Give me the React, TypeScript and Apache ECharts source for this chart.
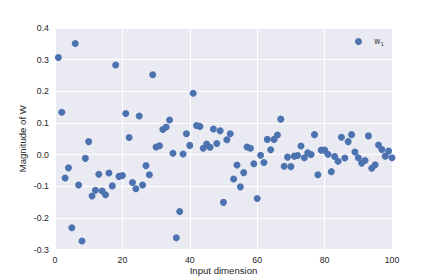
import React, { useEffect, useRef } from "react";
import * as echarts from "echarts";

const dims: number[] = Array.from({ length: 100 }, (_, i) => i + 1);
const weights: number[] = [
  0.307, 0.134, -0.074, -0.042, -0.231, 0.351, -0.096, -0.273, -0.012, 0.041,
  -0.131, -0.113, -0.062, -0.115, -0.127, -0.058, -0.099, 0.283, -0.069, -0.066,
  0.13, 0.054, -0.088, -0.108, 0.122, -0.096, -0.035, -0.064, 0.252, 0.024,
  0.028, 0.079, 0.087, 0.109, 0.004, -0.263, -0.18, 0.002, 0.066, 0.029,
  0.194, 0.092, 0.089, 0.02, 0.033, 0.023, 0.081, 0.035, 0.075, -0.151,
  0.047, 0.066, -0.077, -0.033, -0.102, -0.057, 0.024, 0.02, -0.029, -0.139,
  -0.002, -0.025, 0.048, 0.015, 0.048, 0.062, 0.112, -0.037, -0.008, -0.038,
  -0.005, -0.003, 0.027, -0.01, 0.006, 0.0, 0.063, -0.064, 0.014, 0.014,
  0.001, -0.054, -0.006, -0.021, 0.055, -0.011, 0.041, 0.063, 0.008, -0.01,
  -0.027, -0.019, 0.059, -0.043, -0.032, 0.03, 0.016, -0.005, 0.011, -0.01,
];
const seriesName = "w1";
const xTitle = "Input dimension";
const yTitle = "Magnitude of W";

const FONT = "'Liberation Sans', Arial, sans-serif";
const TXT = "#262626";

export default function App() {
  const ref = useRef<HTMLDivElement>(null);
  useEffect(() => {
    if (!ref.current) return;
    const chart = echarts.init(ref.current, null, { renderer: "svg" });
    chart.setOption({
      animation: false,
      backgroundColor: "#ffffff",
      grid: {
        left: 55,
        right: 44,
        top: 28,
        bottom: 28.5,
        backgroundColor: "#EAEAF2",
        show: true,
        borderWidth: 0,
        containLabel: false,
        outerBoundsMode: "none",
      },
      legend: {
        left: 355,
        top: 35.5,
        padding: 0,
        itemWidth: 7,
        itemHeight: 7,
        data: [{ name: seriesName, icon: "circle" }],
        formatter: () => "{s|}{w|w}{n|1}",
        textStyle: {
          rich: {
            s: { width: 7 },
            w: { fontFamily: "'DejaVu Sans', sans-serif", fontSize: 8, color: "#3a3a3a" },
            n: { fontFamily: "'DejaVu Sans', sans-serif", fontSize: 5.5, color: "#3a3a3a", padding: [5, 0, 0, 0] },
          },
        },
      },
      xAxis: {
        type: "value",
        min: 0,
        max: 100,
        interval: 20,
        name: xTitle,
        nameLocation: "middle",
        nameGap: 16,
        nameMoveOverlap: false,
        nameTextStyle: { fontFamily: FONT, fontSize: 9.6, color: TXT },
        axisLine: { show: false },
        axisTick: { show: false },
        axisLabel: { fontFamily: FONT, fontSize: 8.8, color: TXT, margin: 6 },
        splitLine: { show: true, lineStyle: { color: "#ffffff", width: 1 } },
      },
      yAxis: {
        type: "value",
        min: -0.3,
        max: 0.4,
        interval: 0.1,
        name: yTitle,
        nameLocation: "middle",
        nameGap: 28,
        nameMoveOverlap: false,
        nameTextStyle: { fontFamily: FONT, fontSize: 9.6, color: TXT },
        axisLine: { show: false },
        axisTick: { show: false },
        axisLabel: {
          fontFamily: FONT,
          fontSize: 8.8,
          color: TXT,
          margin: 6,
          formatter: (v: number) => v.toFixed(1),
        },
        splitLine: { show: true, lineStyle: { color: "#ffffff", width: 1 } },
      },
      series: [
        {
          name: seriesName,
          type: "scatter",
          symbol: "circle",
          symbolSize: 7,
          itemStyle: { color: "#4C72B0", opacity: 1 },
          data: dims.map((d, i) => [d, weights[i]]),
        },
      ],
    });
    return () => chart.dispose();
  }, []);
  return <div ref={ref} style={{ width: 436, height: 278, position: "absolute", left: 0, top: 0 }} />;
}
